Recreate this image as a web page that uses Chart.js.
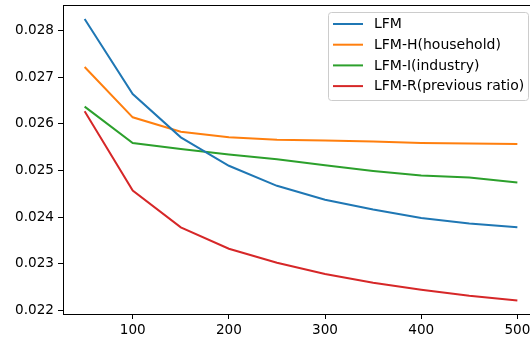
<!DOCTYPE html>
<html>
<head>
<meta charset="utf-8">
<script src="https://cdn.jsdelivr.net/npm/chart.js@4.4.0/dist/chart.umd.min.js"></script>
<style>
  html, body { margin: 0; padding: 0; background: #fff; overflow: hidden; }
  #wrap { width: 530px; height: 343px; overflow: hidden; }
</style>
</head>
<body>
<div id="wrap"><canvas id="lineChart" width="545" height="343"></canvas></div>
<script>
  // data
  const xValues = [50, 100, 150, 200, 250, 300, 350, 400, 450, 500];
  const lfm  = [0.02825, 0.02664, 0.02571, 0.02510, 0.02467, 0.02437, 0.02416, 0.02398, 0.02386, 0.02378];
  const lfmH = [0.02722, 0.02614, 0.02583, 0.02571, 0.02566, 0.02564, 0.02562, 0.02559, 0.02558, 0.02557];
  const lfmI = [0.02637, 0.02559, 0.02546, 0.02534, 0.02524, 0.02511, 0.02499, 0.02489, 0.02485, 0.02474];
  const lfmR = [0.02627, 0.02457, 0.02378, 0.02332, 0.02302, 0.02278, 0.02259, 0.02244, 0.02231, 0.02221];
  const seriesNames = ["LFM", "LFM-H(household)", "LFM-I(industry)", "LFM-R(previous ratio)"];
  const seriesColors = ["#1f77b4", "#ff7f0e", "#2ca02c", "#d62728"];
  const xTicks = [100, 200, 300, 400, 500];
  const yTicks = [0.022, 0.023, 0.024, 0.025, 0.026, 0.027, 0.028];

  const font = { family: "DejaVu Sans", size: 13.6 };
  const legendFont = "14px DejaVu Sans";

  const toPoints = ys => xValues.map((x, i) => ({ x: x, y: ys[i] }));

  // frame around the plot area + matplotlib style legend
  const framePlugin = {
    id: "frame",
    afterDraw(chart) {
      const { ctx, chartArea: a } = chart;
      ctx.save();
      ctx.strokeStyle = "#000";
      ctx.lineWidth = 1;
      ctx.strokeRect(Math.round(a.left) + 0.5, Math.round(a.top) + 0.5,
        Math.round(a.right - a.left), Math.round(a.bottom - a.top));

      // legend box
      const bx = 328.5, by = 12.5, bw = 200, bh = 88;
      ctx.beginPath();
      ctx.roundRect(bx, by, bw, bh, 3);
      ctx.fillStyle = "rgba(255,255,255,0.8)";
      ctx.fill();
      ctx.strokeStyle = "#cccccc";
      ctx.stroke();
      ctx.font = legendFont;
      ctx.textBaseline = "middle";
      chart.data.datasets.forEach((ds, i) => {
        const y = 24 + i * 20.7;
        ctx.strokeStyle = ds.borderColor;
        ctx.lineWidth = 2;
        ctx.beginPath();
        ctx.moveTo(333, y);
        ctx.lineTo(363, y);
        ctx.stroke();
        ctx.fillStyle = "#000";
        ctx.fillText(ds.label, 374, y + 0.5);
      });
      ctx.restore();
    }
  };

  new Chart(document.getElementById("lineChart"), {
    type: "line",
    data: {
      datasets: [lfm, lfmH, lfmI, lfmR].map((ys, i) => ({
        label: seriesNames[i],
        data: toPoints(ys),
        borderColor: seriesColors[i],
        backgroundColor: seriesColors[i],
        borderWidth: 2,
        pointRadius: 0,
        fill: false,
        tension: 0
      }))
    },
    options: {
      responsive: false,
      animation: false,
      devicePixelRatio: 1,
      layout: { padding: { top: 5, right: 6, left: 0, bottom: 0 } },
      plugins: { legend: { display: false }, tooltip: { enabled: false } },
      scales: {
        x: {
          type: "linear",
          min: 27.5,
          max: 522.5,
          afterBuildTicks: s => { s.ticks = xTicks.map(v => ({ value: v })); },
          afterFit: s => { s.height = 29; s.paddingLeft = 0; s.paddingRight = 0; },
          grid: { drawOnChartArea: false, drawTicks: true, tickLength: 5, color: "#000" },
          border: { display: true, color: "#000" },
          ticks: { color: "#000", font: font, padding: 3, maxRotation: 0,
                   callback: v => String(v) }
        },
        y: {
          min: 0.02192,
          max: 0.02855,
          afterBuildTicks: s => { s.ticks = yTicks.map(v => ({ value: v })); },
          afterFit: s => { s.width = 63; s.paddingTop = 0; s.paddingBottom = 0; },
          grid: { drawOnChartArea: false, drawTicks: true, tickLength: 5, color: "#000" },
          border: { display: true, color: "#000" },
          ticks: { color: "#000", font: font, padding: 4,
                   callback: v => v.toFixed(3) }
        }
      }
    },
    plugins: [framePlugin]
  });
</script>
</body>
</html>
